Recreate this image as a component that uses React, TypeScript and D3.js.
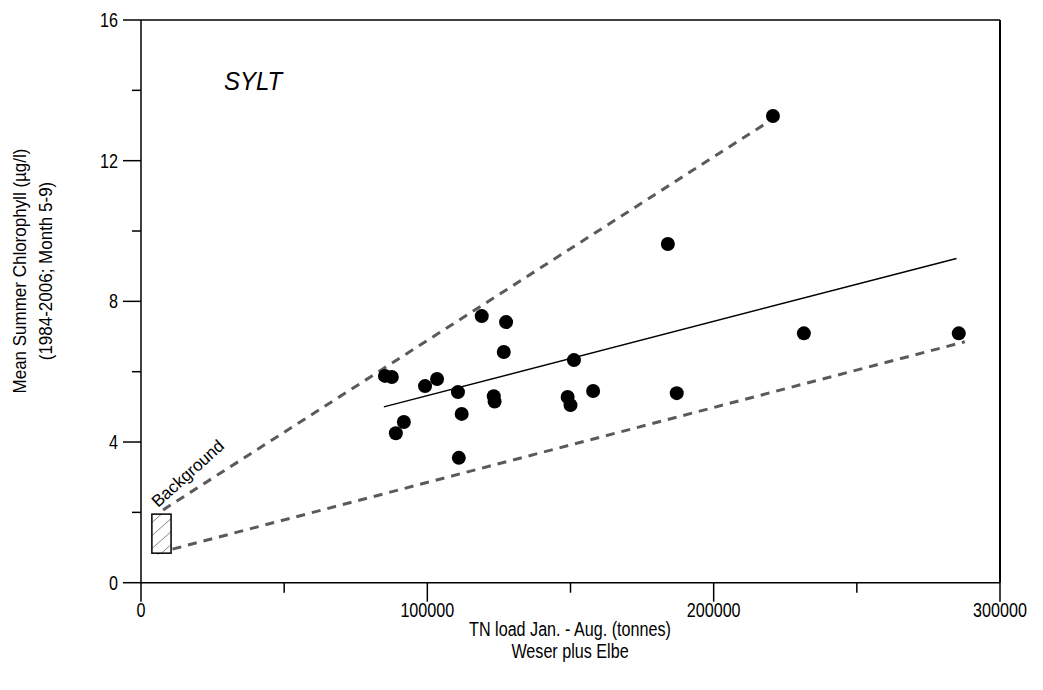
import * as React from 'react';
import * as d3 from 'd3';

// TN load (tonnes) and mean summer chlorophyll (ug/l), one point per year 1984-2006
const tnLoad = [85200, 87600, 89000, 91800, 99200, 103400, 110700, 112000, 111000, 119000, 127500, 126700, 123200, 123500, 151200, 149000, 150000, 157900, 184000, 187100, 220700, 231500, 285600];
const chlorophyll = [5.88, 5.85, 4.25, 4.57, 5.59, 5.79, 5.42, 4.80, 3.55, 7.58, 7.41, 6.56, 5.30, 5.15, 6.33, 5.28, 5.05, 5.45, 9.63, 5.39, 13.27, 7.09, 7.09];

const regressionLine = [[84800, 5.0], [284800, 9.22]];
const upperBound = [[7700, 2.07], [219000, 13.1]];
const lowerBound = [[5600, 0.84], [287700, 6.85]];
const backgroundBox = { x0: 3800, x1: 10500, y0: 0.84, y1: 1.95 };

const xMajorTicks = [0, 100000, 200000, 300000];
const xMinorTicks = [50000, 150000, 250000];
const yMajorTicks = [0, 4, 8, 12, 16];
const yMinorTicks = [2, 6, 10, 14];

const font = '"Liberation Sans", Arial, sans-serif';

const App = () => {
  const width = 1043;
  const height = 690;
  const x = d3.scaleLinear().domain([0, 300000]).range([141, 1000]);
  const y = d3.scaleLinear().domain([0, 16]).range([582.7, 20]);

  const line = d3.line<number[]>().x(d => x(d[0])).y(d => y(d[1]));

  const bx = x(backgroundBox.x0);
  const bw = x(backgroundBox.x1) - bx;
  const by = y(backgroundBox.y1);
  const bh = y(backgroundBox.y0) - by;

  // text in the original is drawn slightly tall/narrow
  const tall = (tx: number, ty: number) => `translate(${tx},${ty}) scale(0.95,1.15)`;

  return (
    <svg width={width} height={height} style={{ position: 'absolute', left: 0, top: 0, background: '#fff' }}>
      <defs>
        <clipPath id="box-clip">
          <rect x={bx} y={by} width={bw} height={bh} />
        </clipPath>
      </defs>

      {/* frame */}
      <line x1={x(0)} x2={x(300000)} y1={y(16)} y2={y(16)} stroke="#000" strokeWidth={1.5} />
      <line x1={x(300000)} x2={x(300000)} y1={y(16)} y2={y(0)} stroke="#000" strokeWidth={2} />
      <line x1={x(0)} x2={x(0)} y1={y(16)} y2={y(0)} stroke="#000" strokeWidth={1.5} />
      <line x1={x(0)} x2={x(300000)} y1={y(0)} y2={y(0)} stroke="#000" strokeWidth={1.5} />

      {/* x axis ticks */}
      {xMajorTicks.map(t => (
        <g key={'xm' + t}>
          <line x1={x(t)} x2={x(t)} y1={y(0)} y2={y(0) + 19} stroke="#000" strokeWidth={1.5} />
          <text transform={tall(x(t), y(0) + 34)} textAnchor="middle" fontFamily={font} fontSize={17} fill="#000">{t}</text>
        </g>
      ))}
      {xMinorTicks.map(t => (
        <line key={'xn' + t} x1={x(t)} x2={x(t)} y1={y(0)} y2={y(0) + 10} stroke="#000" strokeWidth={1.5} />
      ))}

      {/* y axis ticks */}
      {yMajorTicks.map(t => (
        <g key={'ym' + t}>
          <line x1={x(0) - 18} x2={x(0)} y1={y(t)} y2={y(t)} stroke="#000" strokeWidth={1.5} />
          <text transform={tall(x(0) - 23, y(t) + 7)} textAnchor="end" fontFamily={font} fontSize={17} fill="#000">{t}</text>
        </g>
      ))}
      {yMinorTicks.map(t => (
        <line key={'yn' + t} x1={x(0) - 9} x2={x(0)} y1={y(t)} y2={y(t)} stroke="#000" strokeWidth={1.5} />
      ))}

      {/* axis titles */}
      <text transform={tall(570, 636)} textAnchor="middle" fontFamily={font} fontSize={17} fill="#000">TN load Jan. - Aug. (tonnes)</text>
      <text transform={tall(570, 658)} textAnchor="middle" fontFamily={font} fontSize={17} fill="#000">Weser plus Elbe</text>
      <g transform="translate(26,271) rotate(-90)">
        <text x={0} y={0} textAnchor="middle" fontFamily={font} fontSize={17} fill="#000" transform="scale(1,1.1)">Mean Summer Chlorophyll (µg/l)</text>
        <text x={0} y={24} textAnchor="middle" fontFamily={font} fontSize={17} fill="#000" transform="scale(1,1.1)">(1984-2006; Month 5-9)</text>
      </g>

      {/* station label */}
      <text transform={`translate(224,90) scale(1,1.1)`} fontFamily={font} fontSize={24} fontStyle="italic" fill="#000">SYLT</text>

      {/* envelope lines */}
      <path d={line(upperBound) || ''} fill="none" stroke="#5a5a5a" strokeWidth={3} strokeDasharray="9 7" />
      <path d={line(lowerBound) || ''} fill="none" stroke="#5a5a5a" strokeWidth={3} strokeDasharray="9 7" />

      {/* regression */}
      <path d={line(regressionLine) || ''} fill="none" stroke="#000" strokeWidth={1.5} />

      {/* background box with hatching */}
      <rect x={bx} y={by} width={bw} height={bh} fill="#fff" />
      <g clipPath="url(#box-clip)">
        {[0, 1, 2, 3].map(i => (
          <line key={i} x1={bx - 4} y1={by + 12 + i * 13} x2={bx + bw + 4} y2={by - 12 + i * 13} stroke="#888" strokeWidth={1} />
        ))}
      </g>
      <rect x={bx} y={by} width={bw} height={bh} fill="none" stroke="#000" strokeWidth={1.5} />
      <text transform={`translate(${bx + 6},${by - 6}) rotate(-42)`} fontFamily={font} fontSize={17} fill="#000">Background</text>

      {/* data points */}
      {tnLoad.map((v, i) => (
        <circle key={i} cx={x(v)} cy={y(chlorophyll[i])} r={7} fill="#000" />
      ))}
    </svg>
  );
};

export default App;
